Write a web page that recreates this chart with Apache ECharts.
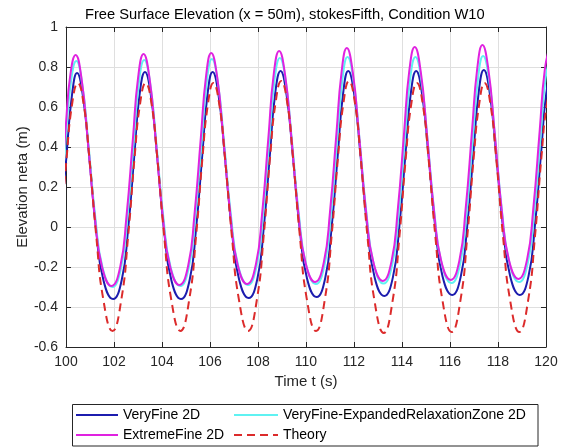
<!DOCTYPE html>
<html>
<head>
<meta charset="utf-8">
<script src="https://cdn.jsdelivr.net/npm/echarts@6/dist/echarts.min.js"></script>
<style>
html,body{margin:0;padding:0;background:#fff;}
#chart{width:561px;height:448px;}
</style>
</head>
<body>
<div id="chart"></div>
<script>
// ---- data: [time (s), elevation (m)] ----
const seriesNames = ['VeryFine 2D', 'VeryFine-ExpandedRelaxationZone 2D', 'ExtremeFine 2D', 'Theory'];

const veryFine2D = [
[99.76,-0.02],[100.03,0.37],[100.24,0.65],
[100.46,0.77],[100.71,0.651],[100.96,0.361],[101.26,-0.021],[101.56,-0.266],[101.96,-0.36],[102.32,-0.266],[102.58,-0.020],[102.85,0.364],[103.06,0.656],
[103.29,0.775],[103.54,0.656],[103.79,0.364],[104.09,-0.020],[104.39,-0.266],[104.79,-0.36],[105.15,-0.266],[105.41,-0.020],[105.68,0.364],[105.89,0.656],
[106.11,0.775],[106.36,0.656],[106.61,0.366],[106.91,-0.016],[107.21,-0.261],[107.61,-0.355],[107.97,-0.261],[108.23,-0.015],[108.50,0.369],[108.71,0.661],
[108.94,0.78],[109.19,0.661],[109.44,0.371],[109.74,-0.011],[110.04,-0.256],[110.44,-0.35],[110.80,-0.256],[111.06,-0.011],[111.33,0.371],[111.54,0.661],
[111.76,0.78],[112.01,0.662],[112.26,0.373],[112.56,-0.008],[112.86,-0.252],[113.26,-0.345],[113.62,-0.252],[113.88,-0.008],[114.15,0.373],[114.36,0.662],
[114.59,0.78],[114.84,0.662],[115.09,0.375],[115.39,-0.004],[115.69,-0.247],[116.09,-0.34],[116.45,-0.247],[116.71,-0.003],[116.98,0.378],[117.19,0.667],
[117.41,0.785],[117.66,0.667],[117.91,0.378],[118.21,-0.003],[118.51,-0.247],[118.91,-0.34],[119.27,-0.247],[119.53,-0.003],[119.80,0.378],[120.01,0.667],[120.24,0.785]
];

const veryFineExpanded2D = [
[99.73,0.04],[100.00,0.46],[100.20,0.72],
[100.43,0.83],[100.68,0.711],[100.93,0.421],[101.23,0.039],[101.53,-0.206],[101.93,-0.30],[102.29,-0.206],[102.55,0.041],[102.82,0.424],[103.03,0.716],
[103.26,0.835],[103.51,0.716],[103.76,0.426],[104.06,0.044],[104.36,-0.201],[104.76,-0.295],[105.12,-0.201],[105.38,0.046],[105.65,0.429],[105.86,0.721],
[106.08,0.84],[106.33,0.721],[106.58,0.431],[106.88,0.049],[107.18,-0.196],[107.58,-0.29],[107.94,-0.196],[108.20,0.051],[108.47,0.434],[108.68,0.726],
[108.91,0.845],[109.16,0.726],[109.41,0.436],[109.71,0.054],[110.01,-0.191],[110.41,-0.285],[110.77,-0.191],[111.03,0.056],[111.30,0.439],[111.51,0.731],
[111.73,0.85],[111.98,0.731],[112.23,0.440],[112.53,0.057],[112.83,-0.189],[113.23,-0.283],[113.59,-0.189],[113.85,0.057],[114.12,0.440],[114.33,0.731],
[114.56,0.85],[114.81,0.731],[115.06,0.441],[115.36,0.059],[115.66,-0.186],[116.06,-0.28],[116.42,-0.186],[116.68,0.061],[116.95,0.444],[117.16,0.736],
[117.38,0.855],[117.63,0.736],[117.88,0.446],[118.18,0.064],[118.48,-0.181],[118.88,-0.275],[119.24,-0.181],[119.50,0.066],[119.77,0.449],[119.98,0.741],[120.21,0.86]
];

const extremeFine2D = [
[99.75,0.12],[100.00,0.52],[100.18,0.76],
[100.40,0.86],[100.65,0.739],[100.90,0.442],[101.20,0.052],[101.50,-0.199],[101.90,-0.295],[102.26,-0.199],[102.52,0.053],[102.79,0.445],[103.00,0.743],
[103.23,0.865],[103.48,0.744],[103.73,0.447],[104.03,0.057],[104.33,-0.194],[104.73,-0.29],[105.09,-0.194],[105.35,0.058],[105.62,0.450],[105.83,0.748],
[106.05,0.87],[106.30,0.749],[106.55,0.452],[106.85,0.062],[107.15,-0.189],[107.55,-0.285],[107.91,-0.188],[108.17,0.065],[108.44,0.458],[108.65,0.758],
[108.88,0.88],[109.13,0.759],[109.38,0.462],[109.68,0.072],[109.98,-0.179],[110.38,-0.275],[110.74,-0.178],[111.00,0.076],[111.27,0.471],[111.48,0.772],
[111.70,0.895],[111.95,0.773],[112.20,0.473],[112.50,0.080],[112.80,-0.173],[113.20,-0.27],[113.56,-0.173],[113.82,0.081],[114.09,0.476],[114.30,0.777],
[114.53,0.90],[114.78,0.778],[115.03,0.478],[115.33,0.085],[115.63,-0.168],[116.03,-0.265],[116.39,-0.168],[116.65,0.088],[116.92,0.485],[117.13,0.787],
[117.35,0.91],[117.60,0.787],[117.85,0.486],[118.15,0.091],[118.45,-0.163],[118.85,-0.26],[119.21,-0.163],[119.47,0.091],[119.74,0.486],[119.95,0.787],[120.18,0.91]
];

const theory = [
[99.76,-0.044],[100.03,0.352],[100.25,0.611],
[100.49,0.72],[100.74,0.611],[100.97,0.352],[101.26,-0.044],[101.55,-0.359],[101.94,-0.52],[102.31,-0.359],[102.59,-0.044],[102.86,0.352],[103.08,0.611],
[103.32,0.72],[103.57,0.611],[103.80,0.352],[104.09,-0.044],[104.38,-0.359],[104.77,-0.52],[105.14,-0.359],[105.42,-0.044],[105.69,0.352],[105.91,0.611],
[106.14,0.72],[106.39,0.611],[106.62,0.352],[106.91,-0.044],[107.20,-0.359],[107.59,-0.52],[107.96,-0.358],[108.24,-0.04],[108.51,0.359],[108.73,0.62],
[108.97,0.73],[109.22,0.62],[109.45,0.359],[109.74,-0.04],[110.03,-0.358],[110.42,-0.52],[110.79,-0.358],[111.07,-0.04],[111.34,0.359],[111.56,0.62],
[111.79,0.73],[112.04,0.619],[112.27,0.356],[112.56,-0.046],[112.85,-0.366],[113.24,-0.53],[113.61,-0.368],[113.89,-0.05],[114.16,0.349],[114.38,0.61],
[114.62,0.72],[114.87,0.61],[115.10,0.35],[115.39,-0.047],[115.68,-0.363],[116.07,-0.525],[116.44,-0.363],[116.72,-0.047],[116.99,0.35],[117.21,0.61],
[117.44,0.72],[117.69,0.61],[117.92,0.35],[118.21,-0.047],[118.50,-0.363],[118.89,-0.525],[119.26,-0.363],[119.54,-0.047],[119.81,0.35],[120.03,0.61],[120.27,0.72]
];

const xRange = [100, 120];
const yRange = [-0.6, 1];

// ---- chart ----
const FONT = '"Liberation Sans", Arial, Helvetica, sans-serif';
const AX = '#262626';
const chart = echarts.init(document.getElementById('chart'), null, {renderer: 'canvas'});

function lineSeries(name, data, color, dashed) {
  return {
    name: name, type: 'line', data: data, smooth: 0.5, showSymbol: false, symbol: 'none',
    clip: true, lineStyle: {color: color, width: 2, type: dashed ? [8, 5] : 'solid'},
    itemStyle: {color: color}, emphasis: {disabled: true}
  };
}

const legendText = {fontFamily: FONT, fontSize: 14, color: '#000'};

chart.setOption({
  animation: false,
  backgroundColor: '#fff',
  title: {
    text: 'Free Surface Elevation (x = 50m), stokesFifth, Condition W10',
    left: 85, top: 7, padding: 0,
    textStyle: {fontFamily: FONT, fontSize: 14.7, fontWeight: 'normal', color: '#000'}
  },
  grid: {left: 66, right: 15, top: 27, bottom: 101, containLabel: false},
  xAxis: [{
    type: 'value', min: xRange[0], max: xRange[1], interval: 2,
    name: 'Time t (s)', nameLocation: 'middle', nameGap: 27, nameMoveOverlap: false,
    nameTextStyle: {fontFamily: FONT, fontSize: 15, color: AX},
    axisLine: {show: true, onZero: false, lineStyle: {color: AX, width: 1}},
    axisTick: {show: true, inside: true, length: 5, lineStyle: {color: AX}},
    axisLabel: {fontFamily: FONT, fontSize: 14, color: AX, margin: 8},
    splitLine: {show: true, lineStyle: {color: '#dfdfdf', width: 1}}
  }, {
    type: 'value', min: xRange[0], max: xRange[1], interval: 2, position: 'top',
    axisLine: {show: true, onZero: false, lineStyle: {color: AX, width: 1}},
    axisTick: {show: true, inside: true, length: 5, lineStyle: {color: AX}},
    axisLabel: {show: false}, splitLine: {show: false}
  }],
  yAxis: [{
    type: 'value', min: yRange[0], max: yRange[1], interval: 0.2,
    name: 'Elevation neta (m)', nameLocation: 'middle', nameGap: 36, nameMoveOverlap: false,
    nameTextStyle: {fontFamily: FONT, fontSize: 15, color: AX},
    axisLine: {show: true, onZero: false, lineStyle: {color: AX, width: 1}},
    axisTick: {show: true, inside: true, length: 5, lineStyle: {color: AX}},
    axisLabel: {fontFamily: FONT, fontSize: 14, color: AX, margin: 8},
    splitLine: {show: true, lineStyle: {color: '#dfdfdf', width: 1}}
  }, {
    type: 'value', min: yRange[0], max: yRange[1], interval: 0.2, position: 'right',
    axisLine: {show: true, onZero: false, lineStyle: {color: AX, width: 1}},
    axisTick: {show: true, inside: true, length: 5, lineStyle: {color: AX}},
    axisLabel: {show: false}, splitLine: {show: false}
  }],
  legend: [{
    data: [seriesNames[0], seriesNames[2]], orient: 'vertical', left: 75, top: 408, padding: 0,
    itemWidth: 42, itemHeight: 14, itemGap: 6, textStyle: legendText, selectedMode: false,
    itemStyle: {opacity: 0}
  }, {
    data: [seriesNames[1], seriesNames[3]], orient: 'vertical', left: 233, top: 408, padding: 0,
    itemWidth: 44, itemHeight: 14, itemGap: 6, textStyle: legendText, selectedMode: false,
    itemStyle: {opacity: 0}
  }],
  graphic: [{
    type: 'rect', z: -1, silent: true,
    shape: {x: 72.5, y: 404.5, width: 465.5, height: 41.5},
    style: {fill: '#fff', stroke: AX, lineWidth: 1}
  }],
  series: [
    lineSeries(seriesNames[0], veryFine2D, '#1c1cae', false),
    lineSeries(seriesNames[1], veryFineExpanded2D, '#5ff2f2', false),
    lineSeries(seriesNames[2], extremeFine2D, '#e022e0', false),
    lineSeries(seriesNames[3], theory, '#dc2b2b', true)
  ]
});
</script>
</body>
</html>
